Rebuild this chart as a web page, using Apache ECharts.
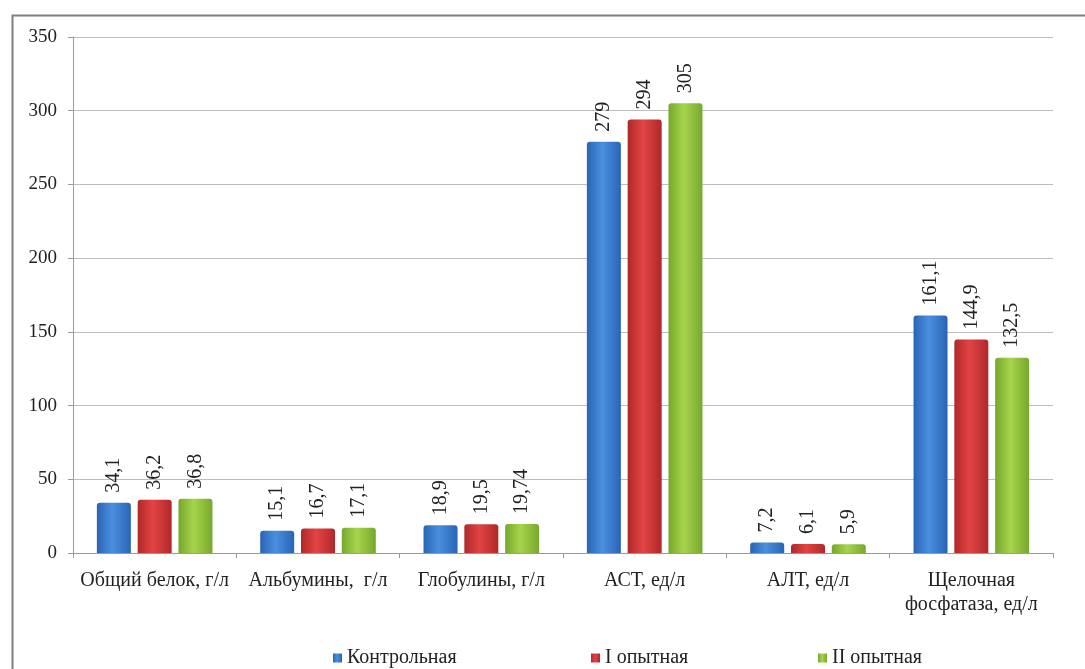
<!DOCTYPE html>
<html>
<head>
<meta charset="utf-8">
<script src="https://cdn.jsdelivr.net/npm/echarts@6/dist/echarts.min.js"></script>
<style>
  html, body { margin: 0; padding: 0; background: #fff; }
  #chart { width: 1085px; height: 669px; }
</style>
</head>
<body>
<div id="chart"></div>
<script>
// категории
var categories = ['Общий белок, г/л', 'Альбумины,  г/л', 'Глобулины, г/л', 'АСТ, ед/л', 'АЛТ, ед/л', 'Щелочная\nфосфатаза, ед/л'];
// серии
var seriesNames = ['Контрольная', 'I опытная', 'II опытная'];
var control = [34.1, 15.1, 18.9, 279, 7.2, 161.1];
var exp1 = [36.2, 16.7, 19.5, 294, 6.1, 144.9];
var exp2 = [36.8, 17.1, 19.74, 305, 5.9, 132.5];
// ось Y
var yMin = 0, yMax = 350, yStep = 50;

var FONT = '"Liberation Serif", "DejaVu Serif", serif';

// цилиндрический градиент
function grad(edge, mid) {
  return new echarts.graphic.LinearGradient(0, 0, 1, 0, [
    { offset: 0, color: edge },
    { offset: 0.45, color: mid },
    { offset: 1, color: edge }
  ]);
}

var colors = [
  ['#2a64b4', '#4a8fe0', '#3a78c8'],
  ['#b02828', '#e24444', '#c8302e'],
  ['#76a82c', '#a8d44c', '#8db83a']
];

function makeSeries(name, data, k) {
  return {
    name: name,
    type: 'bar',
    data: data,
    barWidth: 34,
    barGap: '20%',
    itemStyle: {
      color: grad(colors[k][0], colors[k][1]),
      borderRadius: [3, 3, 0, 0]
    },
    label: {
      show: true,
      position: 'top',
      rotate: 90,
      align: 'left',
      verticalAlign: 'middle',
      distance: 10,
      fontFamily: FONT,
      fontSize: 20,
      color: '#222',
      formatter: function (p) {
        return String(p.value).replace('.', ',');
      }
    }
  };
}

// легенда — по одному элементу
function legendItem(name, left) {
  return {
    data: [name],
    left: left,
    top: 643,
    icon: 'rect',
    itemWidth: 9,
    itemHeight: 9,
    textStyle: { fontFamily: FONT, fontSize: 20, color: '#222' }
  };
}

var chart = echarts.init(document.getElementById('chart'));
var option = {
  backgroundColor: '#ffffff',
  color: [colors[0][2], colors[1][2], colors[2][2]],
  animation: false,
  graphic: [{
    type: 'rect',
    left: 10,
    top: 13,
    shape: { width: 1090, height: 670 },
    style: { fill: 'none', stroke: '#7f7f7f', lineWidth: 2 },
    silent: true
  }],
  grid: {
    left: 73,
    right: 32,
    top: 37,
    bottom: 116
  },
  legend: [
    legendItem(seriesNames[0], 328),
    legendItem(seriesNames[1], 586),
    legendItem(seriesNames[2], 813)
  ],
  xAxis: {
    type: 'category',
    data: categories,
    axisLine: { lineStyle: { color: '#9a9a9a' } },
    axisTick: { show: true, length: 5, lineStyle: { color: '#9a9a9a' } },
    axisLabel: {
      interval: 0,
      margin: 16,
      fontFamily: FONT,
      fontSize: 20,
      lineHeight: 24,
      color: '#222'
    }
  },
  yAxis: {
    type: 'value',
    min: yMin,
    max: yMax,
    interval: yStep,
    axisLine: { show: true, lineStyle: { color: '#9a9a9a' } },
    axisTick: { show: true, length: 5, lineStyle: { color: '#9a9a9a' } },
    splitLine: { lineStyle: { color: '#bdbdbd' } },
    axisLabel: {
      margin: 16,
      fontFamily: FONT,
      fontSize: 19,
      color: '#222'
    }
  },
  series: [
    makeSeries(seriesNames[0], control, 0),
    makeSeries(seriesNames[1], exp1, 1),
    makeSeries(seriesNames[2], exp2, 2)
  ]
};
chart.setOption(option);
</script>
</body>
</html>
